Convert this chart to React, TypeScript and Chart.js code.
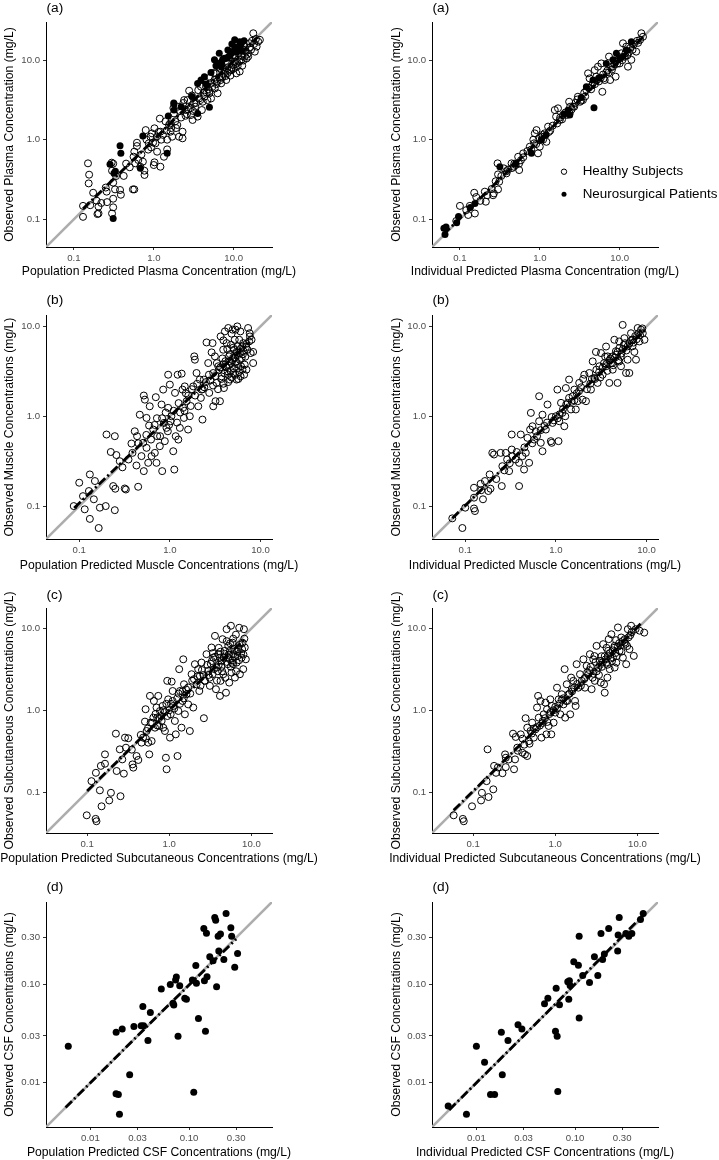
import React, { useEffect, useRef } from "react";
import { Chart, registerables } from "chart.js";
Chart.register(...registerables);

const FONT = "'Liberation Sans', Arial, Helvetica, sans-serif";

type Pt = [number, number];

// ---------- axis limits & ticks ----------
const plasmaLimits: Pt = [0.0447, 30.2];
const muscleLimits: Pt = [0.043, 13.4];
const subcutLimits: Pt = [0.0316, 17.8];
const csfLimits: Pt = [0.00355, 0.692];

const decadeTicks = [0.1, 1, 10];
const decadeTickLabels = ["0.1", "1.0", "10.0"];
const csfTicks = [0.01, 0.03, 0.1, 0.3];
const csfTickLabels = ["0.01", "0.03", "0.10", "0.30"];

// ---------- (a) plasma ----------
const plasmaPopHealthy: Pt[] = [
  [0.13, 0.147], [0.13, 0.107], [0.15, 0.504], [0.155, 0.363], [0.153, 0.282], [0.174, 0.215], [0.192, 0.171],
  [0.203, 0.144], [0.203, 0.118], [0.197, 0.116], [0.257, 0.222], [0.26, 0.164], [0.297, 0.514], [0.31, 0.5],
  [0.3, 0.407], [0.31, 0.288], [0.327, 0.237], [0.31, 0.181], [0.31, 0.141], [0.3, 0.118], [0.378, 0.233],
  [0.387, 0.203], [0.337, 0.349], [0.558, 0.611], [0.586, 0.504], [0.548, 0.237], [0.57, 0.237], [0.615, 0.832],
  [0.615, 0.916], [0.57, 0.706], [0.64, 0.555], [0.678, 0.457], [0.762, 0.407], [0.765, 0.36], [0.73, 0.529],
  [0.792, 1.32], [0.81, 1.0], [0.864, 0.9], [0.907, 1.09], [0.925, 0.8], [1.02, 1.39], [1.05, 0.9], [1.02, 0.519],
  [1.0, 0.48], [1.1, 0.706], [1.21, 0.457], [1.19, 1.84], [1.21, 1.26], [1.24, 1.0], [1.34, 0.61], [1.47, 0.755],
  [1.47, 1.0], [1.55, 1.53], [1.62, 1.26], [1.7, 1.09], [1.79, 2.14], [1.76, 2.5], [1.97, 1.53], [2.07, 1.09],
  [2.29, 1.04], [2.29, 1.26], [2.52, 2.36], [2.4, 3.15], [2.64, 3.15], [2.77, 4.13], [2.91, 2.04], [3.06, 1.77],
  [3.2, 2.86], [3.54, 1.95], [3.82, 3.15], [3.9, 4.64], [4.0, 2.36], [4.3, 3.47], [4.5, 4.64], [4.7, 3.15],
  [4.97, 3.83], [5.21, 3.3], [5.75, 5.63], [6.0, 6.83], [6.3, 3.83], [6.45, 8.28], [6.98, 5.11], [7.3, 6.2],
  [7.66, 7.5], [8.07, 5.63], [8.47, 9.12], [9.36, 7.5], [10.3, 9.6], [10.8, 6.83], [11.3, 12.2], [11.9, 7.2],
  [12.5, 10.1], [13.1, 13.4], [13.8, 11.1], [15.2, 11.1], [17.6, 21.8], [18.4, 12.8], [20.3, 17.1], [21.3, 18.0],
  [15.9, 16.3], [19.4, 14.8], [14.5, 10.5], [2.5, 2.0], [2.7, 2.4], [3.0, 3.6], [3.3, 2.6], [3.6, 4.2], [4.2, 3.9],
  [4.4, 5.4], [4.8, 4.3], [5.4, 4.6], [5.6, 6.9], [6.1, 5.0], [6.6, 6.1], [7.0, 8.8], [7.5, 6.8], [8.2, 7.9],
  [8.8, 10.8], [9.1, 6.4], [9.8, 8.7], [10.5, 11.5], [11.0, 9.3], [12.0, 14.0], [12.8, 8.5], [13.5, 15.5],
  [14.2, 12.8], [16.5, 13.5], [17.0, 17.5], [1.3, 1.15], [1.4, 1.7], [1.65, 1.4], [1.85, 1.7], [2.0, 2.6],
  [2.2, 1.9], [2.35, 2.9], [1.1, 1.1], [0.95, 1.2], [0.85, 0.75],
  [3.1, 2.3], [3.4, 2.9], [3.7, 3.3], [4.1, 3.0], [4.6, 3.9], [5.0, 4.1], [5.3, 5.2], [5.8, 4.4], [6.2, 5.4],
  [6.8, 5.6], [7.1, 6.0], [7.9, 6.3], [8.4, 6.9], [8.9, 7.4], [9.4, 8.1], [10.0, 7.8], [10.6, 8.9], [11.2, 8.4],
  [11.8, 9.6], [12.4, 11.3], [13.2, 9.9], [14.0, 13.5], [15.0, 12.0], [16.0, 14.5], [18.0, 16.0], [19.0, 18.5],
  [2.6, 2.1], [2.9, 2.5], [2.1, 2.3], [1.9, 1.4], [1.6, 1.6], [1.45, 1.3], [1.15, 1.25], [0.98, 0.92], [0.7, 0.65],
  [0.5, 0.45], [0.45, 0.5], [0.42, 0.35], [0.25, 0.25], [0.22, 0.16], [0.16, 0.15], [5.0, 6.0], [6.8, 7.8],
  [8.0, 9.8], [9.8, 11.5], [11.5, 13.5],
];
const plasmaPopPatients: Pt[] = [
  [0.31, 0.102], [0.378, 0.84], [0.387, 0.673], [0.283, 0.49], [0.317, 0.377], [0.73, 1.11], [0.678, 0.436],
  [1.47, 0.673], [1.79, 2.81], [1.79, 2.36], [3.54, 2.14], [4.97, 2.55], [3.9, 5.63], [4.3, 6.2], [5.75, 10.1],
  [7.66, 10.6], [8.47, 13.4], [10.3, 14.8], [11.9, 17.1], [12.5, 16.3], [10.8, 12.8], [9.36, 12.2], [7.0, 8.28],
  [6.3, 9.1], [1.52, 1.98], [6.6, 12.2], [10.3, 18.0], [7.3, 10.3], [3.54, 5.1], [1.78, 2.9], [11.9, 15.0],
  [8.5, 11.0], [0.33, 0.4], [5.2, 7.0], [6.0, 8.5], [7.0, 9.5], [8.0, 10.5], [9.0, 11.5], [10.0, 13.0],
  [11.0, 14.0], [12.0, 13.0], [4.5, 5.0], [3.0, 3.5], [2.2, 2.6], [13.5, 17.5], [9.5, 16.0],
];
const plasmaPopFit: Pt[] = [[0.13, 0.135], [1, 1], [20, 19.5]];

const plasmaIndHealthy: Pt[] = [
  [0.1, 0.147], [0.133, 0.147], [0.127, 0.113], [0.154, 0.118], [0.151, 0.215], [0.16, 0.19], [0.211, 0.166],
  [0.205, 0.222], [0.266, 0.211], [0.296, 0.504], [0.3, 0.366], [0.31, 0.296], [0.3, 0.237], [0.26, 0.2],
  [0.355, 0.436], [0.383, 0.377], [0.443, 0.504], [0.5, 0.48], [0.536, 0.61], [0.552, 0.415], [0.473, 0.457],
  [0.619, 0.673], [0.75, 0.817], [0.83, 1.0], [0.866, 1.2], [0.91, 1.32], [0.95, 0.673], [1.0, 0.817], [1.05, 1.09],
  [1.15, 1.2], [1.21, 0.94], [1.27, 1.46], [1.54, 2.36], [1.6, 1.95], [1.69, 2.48], [1.78, 1.77], [1.96, 2.04],
  [2.37, 2.14], [2.33, 3.0], [2.61, 2.6], [3.0, 3.47], [3.47, 3.15], [3.83, 4.2], [4.2, 5.9], [4.02, 6.83],
  [4.64, 5.2], [5.1, 6.2], [5.35, 8.28], [6.07, 4.0], [6.5, 5.63], [7.36, 11.1], [7.6, 5.63], [8.25, 8.28],
  [8.9, 6.2], [10.0, 9.1], [10.5, 12.2], [11.0, 16.3], [12.1, 14.8], [12.7, 8.28], [14.0, 10.1], [16.1, 12.8],
  [18.7, 21.8], [19.6, 19.7], [5.9, 9.1], [4.87, 7.5], [0.18, 0.17], [0.22, 0.2], [0.4, 0.42], [0.45, 0.44],
  [0.58, 0.55], [0.7, 0.72], [0.85, 0.9], [1.1, 1.0], [1.3, 1.25], [1.8, 1.9], [2.1, 2.2], [2.5, 2.4], [2.8, 2.9],
  [3.2, 3.0], [3.6, 3.9], [4.4, 4.3], [5.5, 5.4], [6.2, 6.6], [7.0, 7.4], [7.8, 8.2], [9.0, 9.6], [9.6, 10.2],
  [11.5, 11.0], [13.0, 12.5], [15.0, 15.8], [17.0, 16.5], [0.12, 0.13], [0.09, 0.095],
  [0.25, 0.24], [0.28, 0.3], [0.33, 0.35], [0.38, 0.4], [0.48, 0.5], [0.55, 0.5], [0.62, 0.6], [0.78, 0.75],
  [0.9, 0.88], [0.98, 1.05], [1.08, 1.15], [1.35, 1.3], [1.45, 1.5], [1.65, 1.6], [1.9, 1.8], [2.2, 2.05],
  [2.4, 2.6], [2.7, 2.6], [2.95, 3.2], [3.3, 3.1], [3.7, 3.5], [4.1, 4.5], [4.5, 4.8], [4.9, 5.0], [5.2, 5.6],
  [5.8, 6.0], [6.3, 5.9], [6.8, 7.0], [7.3, 7.0], [8.0, 7.6], [8.6, 8.9], [9.3, 9.0], [10.2, 10.8], [10.8, 10.0],
  [11.8, 12.2], [12.5, 11.5], [13.5, 14.2], [14.5, 13.5], [16.5, 17.5], [18.0, 18.0],
];
const plasmaIndPatients: Pt[] = [
  [0.063, 0.077], [0.067, 0.08], [0.065, 0.064], [0.096, 0.108], [0.091, 0.09], [0.154, 0.158], [0.316, 0.457],
  [0.787, 0.673], [1.05, 1.0], [2.26, 2.36], [2.37, 2.04], [4.77, 2.52], [3.83, 4.64], [4.64, 5.63], [6.8, 9.1],
  [9.1, 12.2], [12.1, 13.4], [14.0, 17.1], [11.0, 11.1], [8.25, 10.1], [0.5, 0.5], [1.2, 1.15], [2.0, 2.1],
  [3.3, 3.4], [5.5, 6.0], [10.0, 10.5], [0.135, 0.14],
];
const plasmaIndFit: Pt[] = [[0.062, 0.064], [1, 1], [20, 20]];

// ---------- (b) muscle ----------
const musclePopHealthy: Pt[] = [
  [0.087, 0.1], [0.1, 0.182], [0.115, 0.092], [0.11, 0.129], [0.128, 0.147], [0.131, 0.225], [0.131, 0.072],
  [0.145, 0.119], [0.149, 0.19], [0.164, 0.057], [0.169, 0.096], [0.2, 0.626], [0.196, 0.1], [0.223, 0.4],
  [0.237, 0.167], [0.247, 0.6], [0.247, 0.09], [0.257, 0.37], [0.25, 0.156], [0.28, 0.316], [0.318, 0.157],
  [0.327, 0.153], [0.377, 0.497], [0.387, 0.391], [0.41, 0.68], [0.428, 0.283], [0.435, 0.6], [0.447, 0.164],
  [0.466, 1.04], [0.486, 0.36], [0.508, 0.506], [0.516, 1.7], [0.53, 1.53], [0.516, 0.245], [0.553, 0.958],
  [0.553, 0.445], [0.577, 0.303], [0.59, 0.788], [0.6, 1.29], [0.628, 0.36], [0.655, 0.711], [0.683, 0.391],
  [0.7, 1.63], [0.712, 0.303], [0.725, 0.6], [0.775, 0.464], [0.81, 1.35], [0.823, 0.245], [0.844, 1.98],
  [0.86, 0.843], [0.88, 0.528], [0.918, 0.742], [0.958, 1.24], [0.958, 2.9], [1.0, 2.25], [1.02, 0.88],
  [1.04, 1.0], [1.09, 0.408], [1.12, 0.255], [1.14, 1.82], [1.16, 0.6], [1.22, 2.9], [1.24, 0.55], [1.29, 0.742],
  [1.35, 2.98], [1.38, 1.98], [1.4, 1.24], [1.43, 0.958], [1.46, 2.15], [1.53, 1.47], [1.59, 0.711], [1.66, 1.0],
  [1.81, 2.15], [1.86, 4.64], [1.89, 4.26], [1.97, 3.03], [2.06, 1.29], [2.14, 2.56], [2.24, 1.98], [2.29, 0.918],
  [2.37, 2.56], [2.54, 6.63], [2.65, 3.91], [2.72, 1.82], [2.89, 5.14], [2.96, 6.52], [3.01, 3.03], [3.14, 4.64],
  [3.01, 1.29], [3.19, 1.47], [3.28, 2.35], [3.42, 3.6], [3.57, 1.47], [3.63, 7.74], [3.72, 2.78], [3.88, 5.5],
  [3.95, 2.06], [4.05, 8.8], [4.16, 3.6], [4.23, 6.52], [4.34, 3.16], [4.41, 9.6], [4.5, 4.64], [4.6, 2.56],
  [4.72, 6.25], [4.8, 3.91], [4.93, 9.2], [5.0, 3.03], [5.1, 5.5], [5.2, 7.1], [5.35, 4.08], [5.45, 2.56],
  [5.55, 10.0], [5.7, 3.44], [5.83, 7.1], [5.93, 5.05], [6.03, 2.78], [6.2, 4.44], [6.33, 3.3], [6.45, 6.52],
  [6.7, 3.75], [6.92, 5.9], [7.0, 3.3], [7.3, 9.6], [7.65, 7.74], [7.8, 5.05], [7.97, 7.1], [8.3, 5.2], [8.3, 3.91],
  [5.0, 4.44], [4.6, 4.08], [5.45, 5.2], [5.9, 4.26], [3.3, 3.9], [3.5, 3.3], [3.8, 4.4], [4.0, 3.0], [4.2, 3.5],
  [4.4, 2.9], [4.5, 3.7], [4.7, 3.2], [4.9, 4.2], [5.1, 3.4], [5.3, 2.9], [5.5, 3.8], [5.8, 3.1], [6.1, 3.6],
  [6.4, 4.9], [6.6, 2.9], [5.6, 6.0], [5.0, 5.8], [6.8, 4.6], [7.2, 5.5], [4.3, 5.6], [3.7, 2.6], [3.0, 2.2],
  [2.7, 2.9], [2.4, 2.1], [2.2, 1.6], [1.9, 1.7], [1.7, 1.3], [1.5, 1.8], [1.3, 1.1], [1.2, 0.85], [0.95, 0.68],
  [0.9, 1.1], [0.72, 0.95],
  [0.3, 0.27], [0.35, 0.33], [0.45, 0.5], [0.55, 0.62], [0.62, 0.55], [0.68, 0.8], [0.78, 0.6], [0.82, 0.95],
  [0.98, 0.8], [1.1, 1.15], [1.25, 1.4], [1.45, 1.15], [1.6, 1.7], [1.75, 2.0], [2.0, 2.3], [2.3, 2.0], [2.5, 2.4],
  [2.8, 2.5], [3.2, 2.8], [3.6, 3.5], [3.9, 3.8], [4.1, 4.1], [4.6, 4.9], [5.2, 4.5], [5.6, 4.8], [6.0, 5.6],
  [6.5, 5.3], [7.0, 6.4], [7.5, 6.8], [4.8, 2.7], [5.7, 2.6], [4.4, 2.4], [3.9, 2.3], [3.4, 2.0], [6.3, 6.0],
  [7.6, 8.4], [6.0, 8.8], [5.3, 9.2], [4.8, 8.3], [3.9, 7.0],
];
const musclePopFit: Pt[] = [[0.088, 0.095], [1, 1], [7.5, 6.6]];

const muscleIndHealthy: Pt[] = [
  [0.072, 0.073], [0.093, 0.057], [0.1, 0.096], [0.125, 0.124], [0.125, 0.094], [0.128, 0.088], [0.125, 0.16],
  [0.148, 0.177], [0.157, 0.119], [0.165, 0.19], [0.18, 0.147], [0.186, 0.225], [0.19, 0.156], [0.199, 0.391],
  [0.208, 0.375], [0.253, 0.167], [0.246, 0.391], [0.257, 0.278], [0.28, 0.391], [0.29, 0.33], [0.305, 0.245],
  [0.326, 0.626], [0.326, 0.426], [0.332, 0.359], [0.36, 0.33], [0.393, 0.167], [0.393, 0.303], [0.41, 0.626],
  [0.428, 0.359], [0.446, 0.255], [0.466, 0.391], [0.486, 0.575], [0.507, 0.303], [0.52, 0.711], [0.53, 1.09],
  [0.552, 0.774], [0.576, 0.55], [0.654, 1.67], [0.654, 0.88], [0.682, 0.506], [0.712, 1.04], [0.712, 0.408],
  [0.775, 0.711], [0.809, 1.35], [0.88, 0.528], [0.9, 0.506], [0.919, 0.843], [1.0, 1.0], [1.04, 1.98],
  [1.07, 0.528], [1.09, 0.88], [1.14, 1.41], [1.18, 1.09], [1.24, 0.774], [1.27, 1.0], [1.29, 2.06], [1.35, 1.41],
  [1.4, 2.56], [1.47, 1.19], [1.53, 1.67], [1.6, 1.98], [1.66, 1.19], [1.74, 1.47], [1.81, 2.35], [1.97, 1.53],
  [2.06, 2.9], [2.15, 1.47], [2.34, 3.03], [2.44, 1.98], [2.55, 4.08], [2.66, 2.67], [2.77, 5.2], [2.89, 2.35],
  [3.02, 3.6], [3.15, 5.05], [3.28, 2.9], [3.58, 5.97], [3.73, 4.64], [3.89, 2.35], [4.06, 3.91], [4.24, 3.3],
  [4.42, 7.1], [4.6, 4.84], [4.8, 2.35], [5.02, 5.74], [5.24, 3.6], [5.46, 10.4], [5.7, 7.4], [5.95, 3.03],
  [6.2, 4.26], [6.47, 3.03], [6.75, 8.4], [7.05, 7.1], [7.35, 5.2], [7.66, 4.26], [8.0, 9.6], [8.35, 6.8],
  [8.7, 9.2], [9.1, 8.4], [9.5, 7.1], [5.02, 4.08], [4.24, 4.64], [3.58, 3.6], [2.5, 2.6], [2.8, 3.3], [3.1, 2.7],
  [3.4, 3.9], [3.7, 3.2], [4.0, 4.4], [4.3, 3.7], [4.6, 5.3], [4.9, 4.2], [5.3, 5.0], [5.6, 6.2], [6.0, 5.4],
  [6.5, 6.5], [7.0, 6.0], [7.5, 7.8], [8.2, 8.4], [1.8, 1.9], [1.6, 1.5], [1.4, 1.6], [1.2, 1.2], [1.05, 0.95],
  [0.9, 0.98], [0.75, 0.78], [0.62, 0.6],
  [0.15, 0.15], [0.22, 0.2], [0.27, 0.25], [0.31, 0.3], [0.37, 0.4], [0.45, 0.45], [0.55, 0.5], [0.6, 0.68],
  [0.68, 0.7], [0.8, 0.85], [0.95, 0.9], [1.1, 1.05], [1.3, 1.35], [1.5, 1.45], [1.7, 1.8], [1.9, 2.1], [2.2, 2.0],
  [2.4, 2.3], [2.7, 2.6], [3.0, 3.1], [3.3, 3.5], [3.6, 3.8], [3.9, 4.2], [4.2, 3.9], [4.5, 4.5], [4.8, 5.2],
  [5.2, 4.6], [5.5, 5.6], [5.8, 6.5], [6.2, 6.0], [6.8, 7.0], [7.2, 6.6], [7.8, 7.2], [8.5, 8.0], [9.0, 9.5],
  [2.0, 2.6], [3.5, 4.6], [5.0, 6.8],
];
const muscleIndFit: Pt[] = [[0.072, 0.073], [1, 1], [9.5, 9.0]];

// ---------- (c) subcutaneous ----------
const subcutPopHealthy: Pt[] = [
  [0.099, 0.052], [0.113, 0.136], [0.128, 0.172], [0.127, 0.047], [0.13, 0.044], [0.143, 0.105], [0.15, 0.067],
  [0.147, 0.209], [0.165, 0.289], [0.165, 0.222], [0.186, 0.079], [0.195, 0.098], [0.224, 0.518], [0.229, 0.181],
  [0.25, 0.333], [0.255, 0.089], [0.268, 0.251], [0.28, 0.168], [0.289, 0.463], [0.297, 0.349], [0.317, 0.455],
  [0.357, 0.218], [0.365, 0.199], [0.4, 0.276], [0.42, 0.247], [0.46, 0.402], [0.48, 0.463], [0.506, 0.727],
  [0.515, 1.03], [0.53, 0.558], [0.555, 0.402], [0.571, 0.289], [0.582, 1.5], [0.593, 0.706], [0.61, 0.42],
  [0.64, 0.813], [0.65, 1.3], [0.67, 0.613], [0.7, 1.08], [0.714, 0.813], [0.735, 1.5], [0.755, 0.643],
  [0.77, 0.98], [0.807, 0.74], [0.83, 1.13], [0.845, 0.613], [0.885, 0.558], [0.91, 0.263], [0.928, 0.19],
  [0.945, 2.29], [0.97, 1.36], [1.02, 0.463], [1.04, 0.893], [1.07, 2.24], [1.1, 1.72], [1.12, 1.13], [1.17, 0.74],
  [1.2, 0.508], [1.26, 0.276], [1.29, 0.98], [1.32, 3.18], [1.35, 1.72], [1.41, 0.613], [1.45, 1.3], [1.48, 4.2],
  [1.51, 2.08], [1.55, 0.893], [1.62, 1.57], [1.7, 1.18], [1.78, 0.558], [1.87, 2.76], [1.96, 1.08], [2.05, 3.66],
  [2.15, 2.08], [2.25, 3.18], [2.32, 1.72], [2.36, 2.63], [2.47, 3.83], [2.64, 0.8], [2.72, 2.29], [2.84, 4.85],
  [2.98, 3.03], [3.12, 1.99], [3.27, 5.85], [3.37, 2.76], [3.43, 4.4], [3.6, 8.12], [3.7, 1.81], [3.77, 3.33],
  [3.95, 4.85], [4.14, 1.5], [4.21, 2.29], [4.33, 4.02], [4.45, 7.4], [4.54, 2.76], [4.76, 5.33], [4.9, 1.64],
  [4.99, 9.8], [5.13, 3.66], [5.23, 6.13], [5.37, 2.18], [5.47, 4.2], [5.63, 10.8], [5.73, 2.89], [5.9, 6.7],
  [6.0, 4.85], [6.3, 2.51], [6.47, 8.4], [6.6, 3.83], [6.9, 5.58], [7.1, 10.2], [7.24, 2.76], [7.6, 4.4],
  [7.8, 6.7], [7.95, 3.18], [8.1, 9.8], [8.3, 5.85], [8.55, 4.2], [4.14, 4.4], [6.0, 3.66], [5.47, 5.33],
  [2.4, 2.0], [2.6, 2.7], [2.9, 3.6], [3.1, 2.5], [3.3, 4.0], [3.5, 3.2], [3.8, 2.3], [4.0, 3.6], [4.2, 5.2],
  [4.4, 3.0], [4.6, 4.4], [4.8, 2.5], [5.0, 3.9], [5.3, 4.8], [5.6, 3.4], [5.9, 4.1], [6.2, 5.6], [6.5, 3.0],
  [6.8, 4.6], [7.2, 6.3], [7.5, 5.0], [8.0, 4.8], [1.9, 2.3], [1.7, 1.9], [1.5, 1.4], [1.3, 1.6], [1.1, 1.3],
  [0.95, 0.85], [0.85, 1.0], [0.75, 0.8],
  [0.35, 0.33], [0.45, 0.5], [0.52, 0.45], [0.55, 0.6], [0.62, 0.7], [0.68, 0.9], [0.72, 0.65], [0.8, 0.85],
  [0.88, 0.95], [0.92, 1.2], [1.0, 1.0], [1.05, 1.2], [1.15, 1.05], [1.25, 1.4], [1.35, 1.2], [1.45, 1.7],
  [1.6, 1.8], [1.8, 1.6], [2.0, 2.4], [2.2, 2.6], [2.5, 3.1], [2.7, 2.3], [3.0, 2.7], [3.2, 3.7], [3.6, 4.5],
  [3.9, 3.0], [4.3, 3.4], [4.7, 4.9], [5.2, 4.4], [5.5, 6.6], [5.8, 3.8], [6.3, 4.5], [6.7, 5.2], [7.1, 4.1],
  [7.7, 5.6], [8.2, 7.5], [6.0, 7.5], [5.0, 7.0], [4.0, 5.8], [3.4, 5.0],
];
const subcutPopFit: Pt[] = [[0.1, 0.103], [1, 1], [8.3, 7.4]];

const subcutIndHealthy: Pt[] = [
  [0.058, 0.052], [0.075, 0.047], [0.077, 0.044], [0.097, 0.067], [0.125, 0.079], [0.128, 0.098], [0.15, 0.333],
  [0.146, 0.136], [0.154, 0.087], [0.176, 0.108], [0.18, 0.209], [0.19, 0.172], [0.228, 0.17], [0.25, 0.202],
  [0.245, 0.289], [0.25, 0.263], [0.306, 0.518], [0.315, 0.19], [0.324, 0.251], [0.33, 0.472], [0.345, 0.349],
  [0.38, 0.508], [0.397, 0.303], [0.427, 0.289], [0.435, 0.8], [0.456, 0.276], [0.456, 0.613], [0.477, 0.42],
  [0.486, 0.39], [0.5, 0.558], [0.524, 0.706], [0.548, 0.463], [0.574, 0.585], [0.6, 1.08], [0.618, 1.5],
  [0.63, 0.813], [0.66, 1.3], [0.68, 0.463], [0.704, 0.74], [0.723, 0.893], [0.76, 1.24], [0.78, 0.508],
  [0.794, 1.03], [0.831, 0.643], [0.87, 1.36], [0.895, 0.508], [0.91, 1.13], [0.955, 0.706], [1.0, 0.937],
  [1.05, 1.89], [1.1, 1.36], [1.15, 0.893], [1.2, 1.57], [1.26, 1.18], [1.3, 3.18], [1.32, 0.813], [1.38, 2.08],
  [1.45, 1.57], [1.52, 0.893], [1.56, 2.51], [1.59, 1.81], [1.66, 2.29], [1.74, 1.3], [1.77, 1.13], [1.82, 3.66],
  [1.91, 1.89], [2.0, 2.76], [2.1, 2.29], [2.2, 4.2], [2.3, 1.89], [2.41, 3.49], [2.52, 2.76], [2.64, 4.85],
  [2.77, 1.81], [2.9, 4.2], [3.03, 2.29], [3.18, 6.13], [3.33, 3.33], [3.49, 4.02], [3.58, 2.18], [3.66, 4.58],
  [3.83, 6.43], [3.93, 2.08], [4.0, 1.64], [4.19, 3.83], [4.31, 2.51], [4.4, 5.33], [4.47, 7.4], [4.6, 3.18],
  [4.82, 8.5], [5.04, 4.4], [5.28, 6.13], [5.53, 3.83], [5.79, 10.3], [6.06, 5.33], [6.35, 7.76], [6.65, 4.4],
  [6.96, 6.72], [7.3, 3.66], [7.64, 9.8], [8.0, 5.58], [8.38, 10.8], [9.03, 4.62], [10.6, 9.4], [12.1, 8.9],
  [5.28, 3.33], [2.3, 2.5], [2.6, 3.1], [2.9, 2.8], [3.1, 3.9], [3.4, 2.7], [3.7, 3.4], [4.0, 4.6], [4.3, 3.6],
  [4.6, 5.0], [4.9, 4.0], [5.2, 5.8], [5.6, 4.6], [6.0, 6.6], [6.4, 5.2], [7.0, 7.4], [7.5, 6.1], [8.2, 8.3],
  [1.6, 1.7], [1.4, 1.3], [1.2, 1.35], [1.0, 1.1], [0.85, 0.9], [0.7, 0.7], [0.6, 0.62],
  [0.2, 0.2], [0.27, 0.25], [0.35, 0.32], [0.4, 0.45], [0.42, 0.38], [0.52, 0.52], [0.55, 0.6], [0.65, 0.65],
  [0.75, 0.8], [0.8, 0.72], [0.88, 0.95], [0.95, 1.0], [1.05, 1.05], [1.12, 1.2], [1.25, 1.4], [1.35, 1.3],
  [1.5, 1.6], [1.7, 1.9], [1.85, 2.1], [2.05, 2.0], [2.25, 2.4], [2.45, 2.9], [2.7, 3.4], [2.85, 2.5], [3.2, 3.0],
  [3.5, 3.6], [3.8, 3.9], [4.1, 4.2], [4.4, 4.6], [4.7, 4.3], [5.0, 5.4], [5.4, 5.0], [5.8, 6.0], [6.2, 6.2],
  [6.6, 7.0], [7.2, 6.5], [7.8, 7.8], [8.5, 9.0], [9.5, 9.8], [3.0, 4.6], [4.2, 5.8], [5.5, 7.2],
];
const subcutIndFit: Pt[] = [[0.058, 0.06], [1, 1], [11, 11.5]];

// ---------- (d) CSF ----------
const csfPopPatients: Pt[] = [
  [0.00597, 0.0235], [0.01824, 0.0327], [0.021, 0.0352], [0.0182, 0.00774], [0.0192, 0.0076], [0.0197, 0.00478],
  [0.025, 0.0121], [0.0276, 0.0375], [0.0327, 0.038], [0.034, 0.0598], [0.0346, 0.038], [0.0383, 0.0269],
  [0.0405, 0.052], [0.0523, 0.0903], [0.0645, 0.1], [0.0688, 0.0647], [0.07, 0.062], [0.073, 0.111],
  [0.0743, 0.119], [0.0773, 0.0297], [0.0804, 0.097], [0.0904, 0.0727], [0.094, 0.071], [0.108, 0.111],
  [0.1115, 0.00803], [0.117, 0.156], [0.1187, 0.103], [0.1244, 0.0452], [0.141, 0.372], [0.143, 0.109],
  [0.1466, 0.0334], [0.15, 0.332], [0.152, 0.12], [0.162, 0.192], [0.175, 0.175], [0.182, 0.48], [0.186, 0.45],
  [0.19, 0.095], [0.197, 0.31], [0.2, 0.22], [0.208, 0.326], [0.225, 0.18], [0.237, 0.53], [0.265, 0.378],
  [0.27, 0.31], [0.29, 0.15], [0.31, 0.207],
];
const csfPopFit: Pt[] = [[0.0056, 0.0056], [0.05, 0.05], [0.3, 0.29]];

const csfIndPatients: Pt[] = [
  [0.00518, 0.0058], [0.00793, 0.00478], [0.01, 0.0235], [0.0121, 0.0162], [0.0139, 0.0076], [0.0153, 0.0076],
  [0.0179, 0.0327], [0.0183, 0.0121], [0.0209, 0.0269], [0.0264, 0.039], [0.0289, 0.0352], [0.049, 0.0637],
  [0.053, 0.0727], [0.0633, 0.0334], [0.0643, 0.0918], [0.0658, 0.0297], [0.0668, 0.00814], [0.0695, 0.0622],
  [0.0843, 0.107], [0.0863, 0.071], [0.0876, 0.109], [0.089, 0.098], [0.097, 0.171], [0.108, 0.157], [0.11, 0.31],
  [0.11, 0.0456], [0.1195, 0.1235], [0.14, 0.105], [0.157, 0.192], [0.17, 0.1235], [0.183, 0.33], [0.19, 0.18],
  [0.198, 0.205], [0.219, 0.372], [0.27, 0.22], [0.273, 0.32], [0.28, 0.48], [0.327, 0.33], [0.35, 0.31],
  [0.376, 0.33], [0.46, 0.46], [0.49, 0.53],
];
const csfIndFit: Pt[] = [[0.0053, 0.0053], [0.05, 0.05], [0.5, 0.52]];

// ---------- titles ----------
const legendLabels = ["Healthy Subjects", "Neurosurgical Patients"];

interface PanelSpec {
  row: number;
  col: number;
  label: string;
  xTitle: string;
  yTitle: string;
  limits: Pt;
  ticks: number[];
  tickLabels: string[];
  healthy: Pt[];
  patients: Pt[];
  fit: Pt[];
  legend?: boolean;
}

const panels: PanelSpec[] = [
  { row: 0, col: 0, label: "(a)", xTitle: "Population Predicted Plasma Concentration (mg/L)", yTitle: "Observed Plasma Concentration (mg/L)", limits: plasmaLimits, ticks: decadeTicks, tickLabels: decadeTickLabels, healthy: plasmaPopHealthy, patients: plasmaPopPatients, fit: plasmaPopFit },
  { row: 0, col: 1, label: "(a)", xTitle: "Individual Predicted Plasma Concentration (mg/L)", yTitle: "Observed Plasma Concentration (mg/L)", limits: plasmaLimits, ticks: decadeTicks, tickLabels: decadeTickLabels, healthy: plasmaIndHealthy, patients: plasmaIndPatients, fit: plasmaIndFit, legend: true },
  { row: 1, col: 0, label: "(b)", xTitle: "Population Predicted Muscle Concentrations (mg/L)", yTitle: "Observed Muscle Concentrations (mg/L)", limits: muscleLimits, ticks: decadeTicks, tickLabels: decadeTickLabels, healthy: musclePopHealthy, patients: [], fit: musclePopFit },
  { row: 1, col: 1, label: "(b)", xTitle: "Individual Predicted Muscle Concentrations (mg/L)", yTitle: "Observed Muscle Concentrations (mg/L)", limits: muscleLimits, ticks: decadeTicks, tickLabels: decadeTickLabels, healthy: muscleIndHealthy, patients: [], fit: muscleIndFit },
  { row: 2, col: 0, label: "(c)", xTitle: "Population Predicted Subcutaneous Concentrations (mg/L)", yTitle: "Observed Subcutaneous Concentrations (mg/L)", limits: subcutLimits, ticks: decadeTicks, tickLabels: decadeTickLabels, healthy: subcutPopHealthy, patients: [], fit: subcutPopFit },
  { row: 2, col: 1, label: "(c)", xTitle: "Individual Predicted Subcutaneous Concentrations (mg/L)", yTitle: "Observed Subcutaneous Concentrations (mg/L)", limits: subcutLimits, ticks: decadeTicks, tickLabels: decadeTickLabels, healthy: subcutIndHealthy, patients: [], fit: subcutIndFit },
  { row: 3, col: 0, label: "(d)", xTitle: "Population Predicted CSF Concentrations (mg/L)", yTitle: "Observed CSF Concentrations (mg/L)", limits: csfLimits, ticks: csfTicks, tickLabels: csfTickLabels, healthy: [], patients: csfPopPatients, fit: csfPopFit },
  { row: 3, col: 1, label: "(d)", xTitle: "Individual Predicted CSF Concentrations (mg/L)", yTitle: "Observed CSF Concentrations (mg/L)", limits: csfLimits, ticks: csfTicks, tickLabels: csfTickLabels, healthy: [], patients: csfIndPatients, fit: csfIndFit },
];

// ---------- layout geometry (page pixels) ----------
const ROWS = [
  { top: 22, bottom: 247, xTitleY: 272, labelY: 8 },
  { top: 315, bottom: 539, xTitleY: 566, labelY: 300 },
  { top: 608, bottom: 833, xTitleY: 859, labelY: 595 },
  { top: 902, bottom: 1127, xTitleY: 1153, labelY: 887.5 },
];
const COLS = [
  { canvasLeft: 0, canvasWidth: 360, left: 46, right: 272, yTitleX: 10 },
  { canvasLeft: 360, canvasWidth: 359, left: 432, right: 658, yTitleX: 397 },
];
const LEGEND = { markerX: 564, textX: 582.7, rowsY: [171.7, 194.3] };
const X_AXIS_H = 20;

function geometry(spec: PanelSpec) {
  const r = ROWS[spec.row];
  const c = COLS[spec.col];
  const top = Math.max(0, r.top - 26);
  const height = Math.round(r.xTitleY + 12 - top);
  return { r, c, top, height, left: c.canvasLeft, width: c.canvasWidth };
}

const toXY = (pts: Pt[]) => pts.map(([x, y]) => ({ x, y }));

function axisOptions(spec: PanelSpec, position: "left" | "bottom", size: number) {
  return {
    type: "logarithmic",
    position,
    min: spec.limits[0],
    max: spec.limits[1],
    offset: false,
    afterBuildTicks: (s: any) => {
      s.ticks = spec.ticks.map((v) => ({ value: v }));
    },
    afterFit: (s: any) => {
      if (position === "left") s.width = size;
      else s.height = size;
    },
    ticks: {
      autoSkip: false,
      maxRotation: 0,
      minRotation: 0,
      padding: 3,
      color: "#4D4D4D",
      font: { family: FONT, size: 9.6 },
      callback: (_v: any, i: number) => spec.tickLabels[i],
    },
    grid: { display: true, drawOnChartArea: false, drawTicks: true, tickLength: 3, color: "#333333", lineWidth: 1 },
    border: { display: true, color: "#000000", width: 1 },
    title: { display: false },
  };
}

function Panel({ spec }: { spec: PanelSpec }) {
  const ref = useRef<HTMLCanvasElement>(null);
  const g = geometry(spec);

  useEffect(() => {
    if (!ref.current) return;
    const { r, c, top, height, left, width } = g;
    const textPlugin = {
      id: "panelText" + spec.row + spec.col,
      afterDraw(chart: any) {
        const ctx = chart.ctx as CanvasRenderingContext2D;
        const a = chart.chartArea;
        ctx.save();
        ctx.fillStyle = "#000000";
        ctx.textBaseline = "middle";
        ctx.font = `13.7px ${FONT}`;
        ctx.textAlign = "left";
        ctx.fillText(spec.label, a.left + 0.5, r.labelY - top);
        ctx.font = `12.2px ${FONT}`;
        ctx.textAlign = "center";
        ctx.fillText(spec.xTitle, (a.left + a.right) / 2, r.xTitleY - top);
        ctx.save();
        ctx.translate(c.yTitleX - left, (a.top + a.bottom) / 2);
        ctx.rotate(-Math.PI / 2);
        ctx.fillText(spec.yTitle, 0, 0);
        ctx.restore();
        if (spec.legend) {
          ctx.font = `13.4px ${FONT}`;
          ctx.textAlign = "left";
          legendLabels.forEach((txt, i) => {
            const y = LEGEND.rowsY[i] - top;
            const x = LEGEND.markerX - left;
            ctx.beginPath();
            if (i === 0) {
              ctx.arc(x, y, 2.7, 0, Math.PI * 2);
              ctx.lineWidth = 1;
              ctx.strokeStyle = "#000";
              ctx.stroke();
            } else {
              ctx.arc(x, y, 2.5, 0, Math.PI * 2);
              ctx.fillStyle = "#000";
              ctx.fill();
            }
            ctx.fillStyle = "#000";
            ctx.fillText(txt, LEGEND.textX - left, y);
          });
        }
        ctx.restore();
      },
    };

    const chartRightRel = c.right - left;
    const chartTopRel = r.top - top;
    const chartBottomRel = r.bottom - top;

    const identity: Pt[] = [
      [spec.limits[0], spec.limits[0]],
      [spec.limits[1], spec.limits[1]],
    ];

    const chart = new Chart(ref.current, {
      type: "scatter",
      data: {
        datasets: [
          {
            label: "fit",
            data: toXY(spec.fit),
            showLine: true,
            borderColor: "#000000",
            borderWidth: 2.8,
            borderDash: [9, 3, 2, 3],
            pointRadius: 0,
            order: 0,
          },
          {
            label: legendLabels[1],
            data: toXY(spec.patients),
            pointRadius: 3.5,
            backgroundColor: "#000000",
            borderColor: "#000000",
            borderWidth: 0,
            order: 1,
          },
          {
            label: legendLabels[0],
            data: toXY(spec.healthy),
            pointRadius: 3.5,
            backgroundColor: "rgba(0,0,0,0)",
            borderColor: "#000000",
            borderWidth: 1,
            order: 2,
          },
          {
            label: "identity",
            data: toXY(identity),
            showLine: true,
            borderColor: "#ADADAD",
            borderWidth: 2.6,
            pointRadius: 0,
            order: 3,
          },
        ],
      } as any,
      options: {
        responsive: false,
        animation: false,
        devicePixelRatio: 1,
        events: [],
        layout: {
          padding: {
            left: 0,
            top: chartTopRel,
            right: width - chartRightRel,
            bottom: height - chartBottomRel - X_AXIS_H,
          },
        },
        plugins: {
          legend: { display: false },
          tooltip: { enabled: false },
          title: { display: false },
        },
        scales: {
          x: axisOptions(spec, "bottom", X_AXIS_H) as any,
          y: axisOptions(spec, "left", c.left - left) as any,
        },
      } as any,
      plugins: [textPlugin],
    });
    return () => chart.destroy();
  }, []);

  return (
    <canvas
      ref={ref}
      width={g.width}
      height={g.height}
      style={{ position: "absolute", left: g.left, top: g.top, width: g.width, height: g.height }}
    />
  );
}

export default function App() {
  return (
    <div
      style={{
        position: "absolute",
        left: 0,
        top: 0,
        width: 719,
        height: 1160,
        overflow: "hidden",
        background: "#ffffff",
      }}
    >
      {panels.map((p) => (
        <Panel key={`${p.row}-${p.col}`} spec={p} />
      ))}
    </div>
  );
}
